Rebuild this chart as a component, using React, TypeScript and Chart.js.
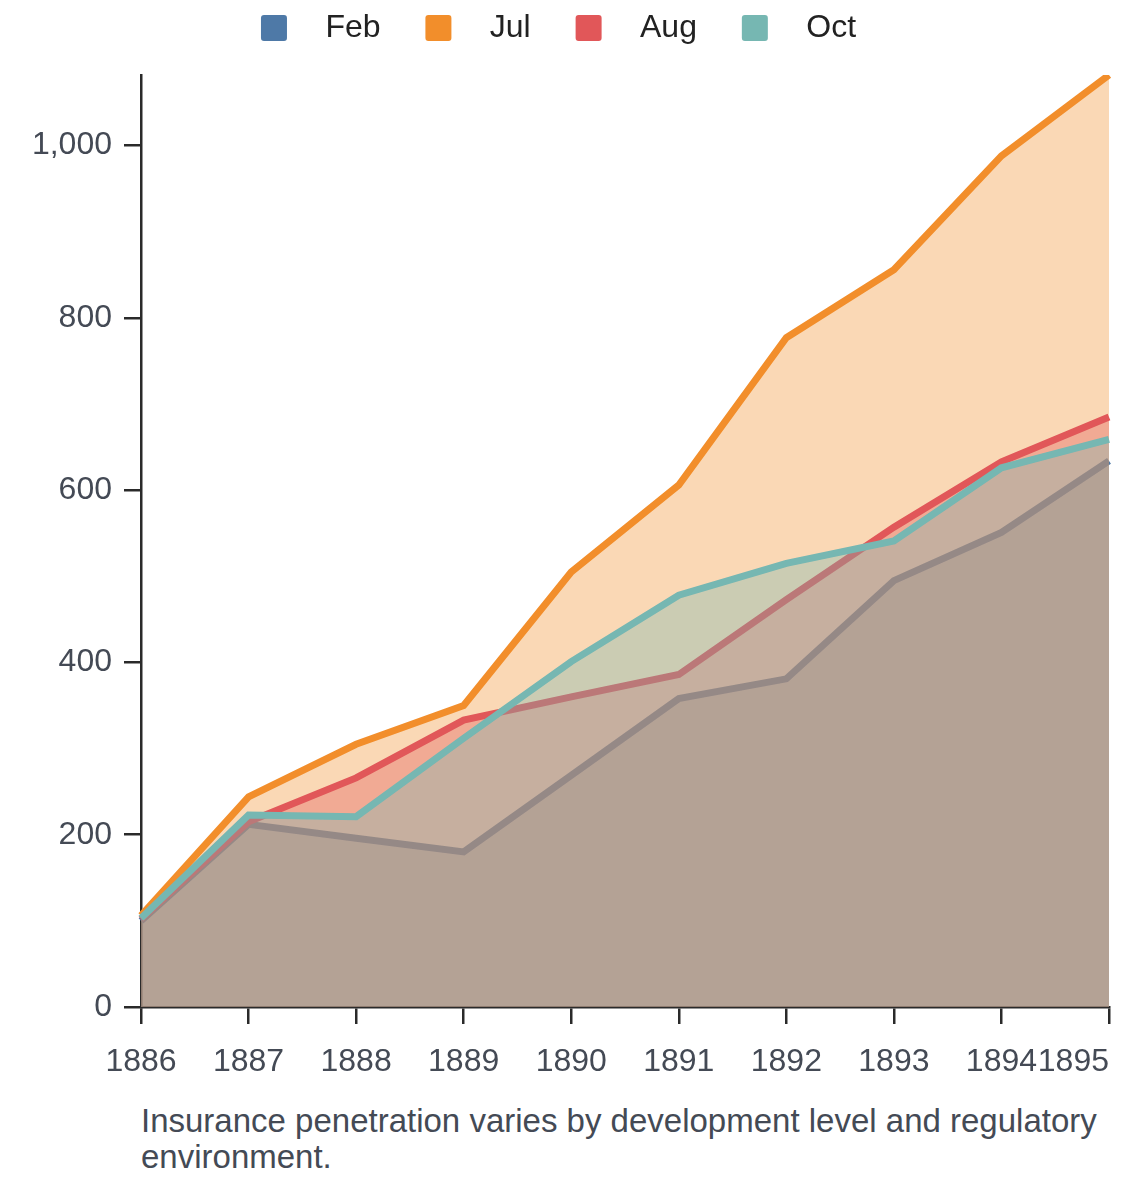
import { useEffect, useRef } from "react";
import { Chart, registerables, ChartConfiguration, Plugin } from "chart.js";

Chart.register(...registerables);

const years = ["1886", "1887", "1888", "1889", "1890", "1891", "1892", "1893", "1894", "1895"];
const febValues = [100, 212, 196, 180, 269, 358, 381, 495, 551, 634];
const julValues = [106, 244, 305, 350, 505, 606, 777, 856, 988, 1082];
const augValues = [102, 215, 266, 333, 360, 386, 473, 557, 633, 685];
const octValues = [103, 223, 221, 312, 401, 478, 515, 541, 626, 659];
const yTicks = [0, 200, 400, 600, 800, 1000];

const caption =
  "Insurance penetration varies by development level and regulatory environment.";

const FONT = "'Liberation Sans', Arial, sans-serif";

const rgba = (hex: string, a: number) => {
  const n = parseInt(hex.slice(1), 16);
  return `rgba(${(n >> 16) & 255}, ${(n >> 8) & 255}, ${n & 255}, ${a})`;
};

// last x label sits flush with the right edge, like the original
const lastLabelRight: Plugin<"line"> = {
  id: "lastLabelRight",
  beforeDraw(chart) {
    const x = chart.scales.x as any;
    const items = x.getLabelItems(chart.chartArea);
    if (items.length) items[items.length - 1].options.textAlign = "right";
  },
};

// keep the legend tight at the top but reserve room down to the plot
const legendRoom: Plugin<"line"> = {
  id: "legendRoom",
  beforeLayout(chart) {
    const lg: any = (chart as any).legend;
    if (!lg || lg._roomFixed) return;
    const fit = lg.fit.bind(lg);
    lg.fit = () => {
      fit();
      lg.height = 67;
    };
    lg._roomFixed = true;
  },
};

const App = () => {
  const canvasRef = useRef<HTMLCanvasElement | null>(null);
  const chartRef = useRef<Chart<"line"> | null>(null);

  useEffect(() => {
    if (!canvasRef.current) return;
    const ctx = canvasRef.current.getContext("2d");
    if (!ctx) return;
    if (chartRef.current) chartRef.current.destroy();

    const series = [
      { label: "Feb", data: febValues, color: "#4e79a7", order: 4 },
      { label: "Jul", data: julValues, color: "#f28e2b", order: 3 },
      { label: "Aug", data: augValues, color: "#e15759", order: 2 },
      { label: "Oct", data: octValues, color: "#76b7b2", order: 1 },
    ];

    const axisColor = "#2a2a2a";
    const tickColor = "#444a55";

    const config: ChartConfiguration<"line"> = {
      type: "line",
      data: {
        labels: years,
        datasets: series.map((s) => ({
          label: s.label,
          data: s.data,
          order: s.order,
          borderColor: s.color,
          backgroundColor: rgba(s.color, 0.35),
          borderWidth: 7,
          pointRadius: 0,
          pointHoverRadius: 0,
          tension: 0,
          fill: "origin",
        })),
      },
      options: {
        responsive: true,
        maintainAspectRatio: false,
        animation: false,
        layout: { padding: { right: 23 } },
        plugins: {
          tooltip: { enabled: false },
          legend: {
            position: "top",
            labels: {
              color: "#222",
              font: { family: FONT, size: 32 },
              boxWidth: 26,
              boxHeight: 26,
              padding: 4,
              useBorderRadius: true,
              borderRadius: 3,
              generateLabels: (chart) =>
                Chart.defaults.plugins.legend.labels
                  .generateLabels(chart)
                  .sort((a, b) => (a.datasetIndex ?? 0) - (b.datasetIndex ?? 0))
                  .map((item, i, all) => ({
                    ...item,
                    text:
                      "\u2002\u2009" + item.text + (i < all.length - 1 ? "\u2003 " : ""),
                    fillStyle: series[item.datasetIndex ?? 0].color,
                    strokeStyle: series[item.datasetIndex ?? 0].color,
                    lineWidth: 0,
                  })),
            },
          },
        },
        scales: {
          x: {
            grid: {
              display: true,
              drawOnChartArea: false,
              drawTicks: true,
              tickLength: 17,
              color: axisColor,
              lineWidth: 2.5,
            },
            border: { color: axisColor, width: 2.5 },
            ticks: {
              color: tickColor,
              font: { family: FONT, size: 32 },
              padding: 19,
              maxRotation: 0,
              autoSkip: false,
            },
            afterFit: (s: any) => {
              s.paddingRight = 0;
              s.height = 89;
            },
          },
          y: {
            min: 0,
            max: Math.max(...julValues, ...augValues, ...octValues, ...febValues),
            afterBuildTicks: (s: any) => {
              s.ticks = yTicks.map((v) => ({ value: v }));
            },
            grid: {
              display: true,
              drawOnChartArea: false,
              drawTicks: true,
              tickLength: 17,
              color: axisColor,
              lineWidth: 2.5,
            },
            border: { color: axisColor, width: 2.5 },
            ticks: {
              color: tickColor,
              font: { family: FONT, size: 32 },
              padding: 12,
              callback: (v) => Number(v).toLocaleString("en-US"),
            },
            afterFit: (s: any) => {
              s.width = 133;
            },
          },
        },
      },
      plugins: [lastLabelRight, legendRoom],
    };

    chartRef.current = new Chart(ctx, config);
    return () => {
      if (chartRef.current) {
        chartRef.current.destroy();
        chartRef.current = null;
      }
    };
  }, []);

  return (
    <div style={{ width: 1124, fontFamily: FONT }}>
      <div style={{ position: "relative", height: 1088 }}>
        <canvas ref={canvasRef}></canvas>
      </div>
      <div
        style={{
          marginTop: 7,
          marginLeft: 133,
          width: 975,
          fontSize: 33,
          lineHeight: "36px",
          color: "#444a55",
        }}
      >
        {caption}
      </div>
    </div>
  );
};

export default App;
